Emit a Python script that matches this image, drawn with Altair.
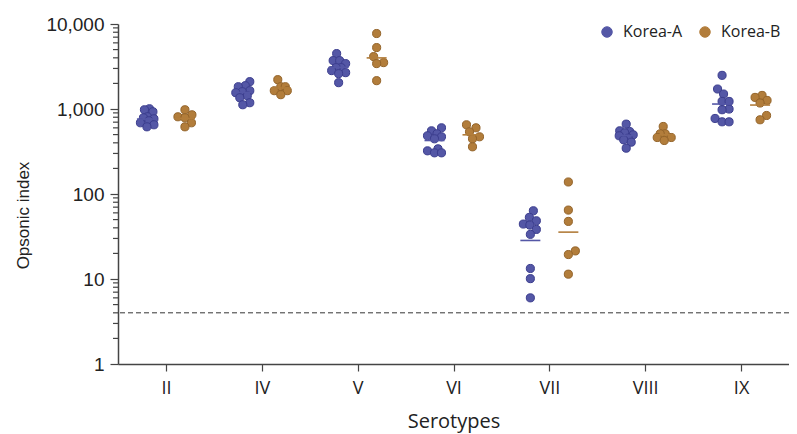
import math
import altair as alt
import pandas as pd

# ---------------- data ----------------
serotypes = ["II", "IV", "V", "VI", "VII", "VIII", "IX"]
groups = ["Korea-A", "Korea-B"]

korea_a = [
    [1007, 980, 928, 810, 788, 767, 727, 688, 652, 617],          # II
    [2097, 1881, 1830, 1642, 1598, 1555, 1433, 1357, 1185, 1122],  # IV
    [4487, 3710, 3710, 3420, 3067, 3067, 2828, 2677, 2605, 2040],  # V
    [601, 554, 511, 484, 471, 446, 340, 322, 305, 305],            # VI
    [63.5, 53.1, 48.4, 44.3, 43.1, 38.3, 33.5, 13.3, 10.1, 6.0],   # VII
    [664, 554, 543, 525, 497, 484, 454, 434, 407, 346],            # VIII
    [2488, 1719, 1501, 1228, 1228, 999, 980, 774, 707, 707],       # IX
]
korea_b = [
    [980, 855, 810, 788, 688, 617],        # II
    [2214, 1830, 1830, 1642, 1642, 1473],  # IV
    [7726, 5281, 4135, 3513, 3420, 2154],  # V
    [652, 601, 539, 471, 446, 359],        # VI
    [138.5, 64.7, 47.6, 21.4, 19.4, 11.4], # VII
    [623, 511, 511, 462, 462, 426],        # VIII
    [1445, 1369, 1262, 1176, 839, 747],    # IX
]
gmt_a = [761, 1568, 3093, 426, 28.4, 488, 1144]
gmt_b = [774, 1767, 3992, 497, 35.6, 497, 1113]
lloq = [4]

y_major = [1, 10, 100, 1000, 10000]
y_minor_mult = [2, 3, 4, 5, 6, 7, 8, 9]

# ---------------- layout / style ----------------
W, H = 671, 340
PX_CAT = W / len(serotypes)
PX_DEC = H / 4.0
GROUP_SHIFT_PX = 19.0
MEAN_HALF_PX = 10.0
COL_FILL = ["#5457a6", "#b27d3b"]
COL_STROKE = ["#3b3d8e", "#94642a"]


def swarm(values, diam=7.5, maxoff=7.0):
    ys = [math.log10(v) * PX_DEC for v in values]
    order = sorted(range(len(ys)), key=lambda i: ys[i])
    cands = [0.0]
    step = 0.5
    k = 1
    while k * step <= maxoff:
        cands += [k * step, -k * step]
        k += 1
    placed, offs = [], [0.0] * len(ys)
    for i in order:
        chosen, bestd, bestc = None, -1.0, 0.0
        for c in cands:
            d = min((math.hypot(c - px, ys[i] - py) for px, py in placed), default=99.0)
            if d >= diam:
                chosen = c
                break
            if d > bestd:
                bestd, bestc = d, c
        if chosen is None:
            chosen = bestc
        offs[i] = chosen
        placed.append((chosen, ys[i]))
    return [o / PX_CAT for o in offs]


rows, mean_rows = [], []
for gi, (g, series, gm) in enumerate(zip(groups, [korea_a, korea_b], [gmt_a, gmt_b])):
    shift = (-1 if gi == 0 else 1) * GROUP_SHIFT_PX / PX_CAT
    for si, vals in enumerate(series):
        offs = swarm(vals)
        for v, o in zip(vals, offs):
            rows.append({"serotype": serotypes[si], "group": g, "value": v, "x": si + shift + o})
        mean_rows.append({"group": g, "gmt": gm[si],
                          "x1": si + shift - MEAN_HALF_PX / PX_CAT,
                          "x2": si + shift + MEAN_HALF_PX / PX_CAT})

df = pd.DataFrame(rows)
mdf = pd.DataFrame(mean_rows)
ldf = pd.DataFrame({"y": lloq})
minor_df = pd.DataFrame({"m": [d * m for d in y_major[:-1] for m in y_minor_mult]})

roman_js = "[" + ",".join("'%s'" % s for s in serotypes) + "]"

x_scale = alt.Scale(domain=[-0.5, len(serotypes) - 0.5], nice=False, zero=False)
y_scale = alt.Scale(type="log", domain=[1, 10000], nice=False)
color_scale = alt.Scale(domain=groups, range=COL_FILL)
stroke_scale = alt.Scale(domain=groups, range=COL_STROKE)

x_axis = alt.Axis(
    values=list(range(len(serotypes))),
    labelExpr=roman_js + "[datum.value]",
    title="Serotypes", grid=False, tickSize=7, labelPadding=8,
    titlePadding=14, labelFlush=False, labelOverlap=False,
)
y_axis = alt.Axis(
    values=y_major, format=",",
    tickSize=8, title="Opsonic index", grid=False, labelPadding=6,
    titleX=-86, titleY=191, labelFlush=False, labelOverlap=False,
)

legend = alt.Legend(
    title=None, orient="none", legendX=481, legendY=0, direction="horizontal",
)

points = alt.Chart(df).mark_circle(size=66, opacity=1, strokeWidth=1).encode(
    x=alt.X("x:Q", scale=x_scale, axis=x_axis),
    y=alt.Y("value:Q", scale=y_scale, axis=y_axis),
    color=alt.Color("group:N", scale=color_scale, legend=legend),
    stroke=alt.Stroke("group:N", scale=stroke_scale, legend=legend),
)

means = alt.Chart(mdf).mark_rule(strokeWidth=1.6).encode(
    x=alt.X("x1:Q", scale=x_scale),
    x2="x2:Q",
    y=alt.Y("gmt:Q", scale=y_scale),
    color=alt.Color("group:N", scale=color_scale),
)

lloq_line = alt.Chart(ldf).mark_rule(strokeDash=[5, 3], color="#333", strokeWidth=1).encode(
    y=alt.Y("y:Q", scale=y_scale),
)

minor_ticks = alt.Chart(minor_df).mark_rule(color="#444", strokeWidth=1.2).encode(
    y=alt.Y("m:Q", scale=y_scale),
    x=alt.value(-5),
    x2=alt.value(0),
)

chart = alt.layer(points, means, lloq_line, minor_ticks).properties(
    width=W, height=H,
    autosize=alt.AutoSizeParams(type="none"),
    padding={"left": 110, "top": 16, "right": 0, "bottom": 70},
).configure_view(stroke=None).configure_axis(
    domainColor="#444", domainWidth=1.5, tickColor="#444", tickWidth=1.2,
).configure_axisX(
    labelFont="Open Sans", labelFontSize=18, labelColor="#222",
    titleFont="Open Sans", titleFontSize=20, titleFontWeight="normal", titleColor="#222",
).configure_axisY(
    labelFont="Liberation Sans", labelFontSize=19, labelColor="#222",
    titleFont="Liberation Sans", titleFontSize=17, titleFontWeight="normal", titleColor="#222",
).configure_legend(
    labelFont="Open Sans", labelFontSize=16, labelColor="#222", symbolSize=110,
    symbolStrokeWidth=1, labelOffset=8, columnPadding=14,
)

chart.save("out.html", embed_options={"renderer": "svg", "actions": False})
